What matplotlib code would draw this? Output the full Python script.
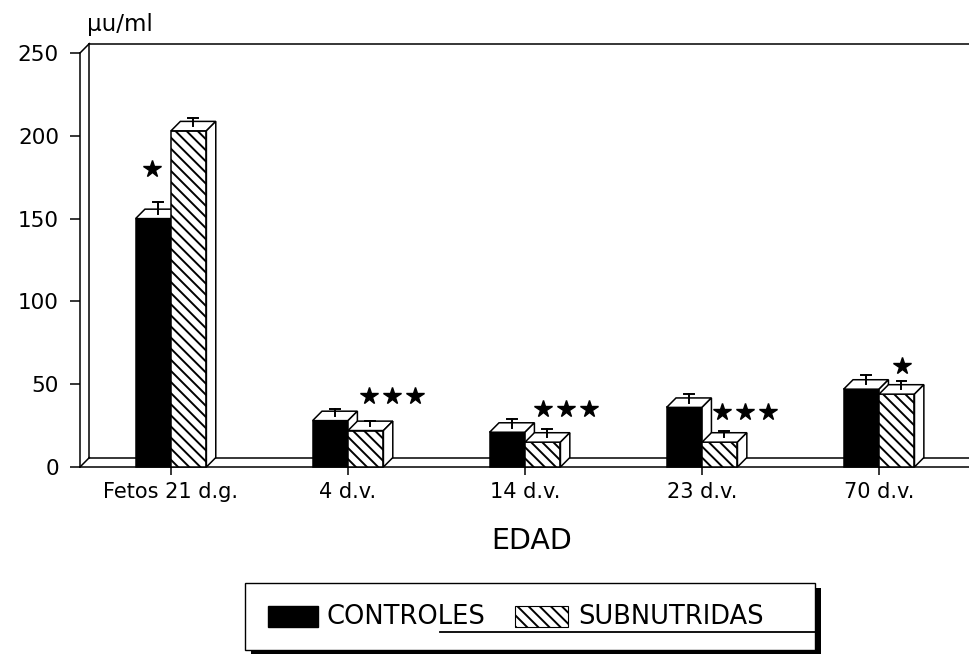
import matplotlib
matplotlib.use("Agg")
import matplotlib.pyplot as plt
from matplotlib.patches import Rectangle, Polygon

plt.rcParams['font.family'] = ['DejaVu Sans']
plt.rcParams['hatch.linewidth'] = 1.4

# insulina (uU/ml) por edad: media y error de cada grupo
edades = ['Fetos 21 d.g.', '4 d.v.', '14 d.v.', '23 d.v.', '70 d.v.']
controles = [150, 28, 21, 36, 47]
controles_err = [7, 4, 5, 5, 6]
subnutridas = [203, 22, 15, 15, 44]
subnutridas_err = [5, 3, 5, 4, 5]
# estrellas de significacion por grupo y altura a la que van
estrellas = [1, 3, 3, 3, 1]
estrellas_y = [180, 43, 35, 33, 61]
yticks = [0, 50, 100, 150, 200, 250]

# desplazamiento horizontal de las estrellas respecto al centro del grupo
estrellas_dx = [-0.11, 0.25, 0.23, 0.24, 0.13]

W, H = 969, 661
fig = plt.figure(figsize=(W / 100, H / 100), dpi=100)
ax = fig.add_axes([80 / W, 1 - 467 / H, 889 / W, 414 / H])
xl, xr = -0.514, 4.508
ax.set_xlim(xl, xr)
ax.set_ylim(0, 250)
for s in ax.spines.values():
    s.set_visible(False)
ax.patch.set_visible(False)
ax.set_yticks(yticks)
ax.set_xticks(range(len(edades)))
ax.set_xticklabels(edades)
ax.tick_params(axis='y', direction='out', length=7.2, width=1.1, pad=8.0, labelsize=15.5)
ax.tick_params(axis='x', direction='out', length=6, width=1.1, pad=5, labelsize=15)

# caja en perspectiva: pared del fondo y suelo
dx, dy = 0.053, 5.7
kw = dict(color='black', lw=1.1, clip_on=False, zorder=1)
ax.plot([xl, xl], [0, 250], **kw)
ax.plot([xl, xr], [0, 0], **kw)
ax.plot([xl + dx, xl + dx], [dy, 250 + dy], **kw)
ax.plot([xl + dx, xr], [250 + dy, 250 + dy], **kw)
ax.plot([xl + dx, xr], [dy, dy], **kw)
ax.plot([xl, xl + dx], [0, dy], **kw)
ax.plot([xl, xl + dx], [250, 250 + dy], **kw)

w = 0.2
rayas = '\\\\\\'


def bar3d(x0, h, err, face, hatch=None):
    pk = dict(edgecolor='black', lw=1.1, zorder=3, clip_on=False)
    ax.add_patch(Rectangle((x0, 0), w, h, facecolor=face, hatch=hatch, **pk))
    ax.add_patch(Polygon([(x0, h), (x0 + w, h), (x0 + w + dx, h + dy), (x0 + dx, h + dy)],
                         closed=True, facecolor='white', **pk))
    ax.add_patch(Polygon([(x0 + w, 0), (x0 + w + dx, dy), (x0 + w + dx, h + dy), (x0 + w, h)],
                         closed=True, facecolor='white', **pk))
    xc = x0 + w / 2 + dx / 2
    yb = h + dy / 2
    ax.plot([xc, xc], [yb, yb + err], color='black', lw=1.4, zorder=3, clip_on=False)
    ax.plot([xc - 0.028, xc + 0.028], [yb + err] * 2, color='black', lw=1.4,
            zorder=3, clip_on=False)


for i in range(len(edades)):
    bar3d(i - w, controles[i], controles_err[i], 'black')
    bar3d(i, subnutridas[i], subnutridas_err[i], 'white', rayas)
    n = estrellas[i]
    xs = [i + estrellas_dx[i] + 0.13 * (k - (n - 1) / 2) for k in range(n)]
    ax.plot(xs, [estrellas_y[i]] * n, ls='none', marker='*', ms=13, color='black',
            clip_on=False, zorder=5)

# capa en pixeles para titulos y leyenda
ov = fig.add_axes([0, 0, 1, 1])
ov.set_xlim(0, W)
ov.set_ylim(H, 0)
ov.axis('off')
ov.text(532, 541, 'EDAD', fontsize=20.5, ha='center', va='center')
ov.text(87, 31, '\u03bcu/ml', fontsize=16.5, ha='left', va='baseline')

ov.add_patch(Rectangle((251, 588), 570, 66, facecolor='black', lw=0))
ov.add_patch(Rectangle((245, 583), 570, 67, facecolor='white', edgecolor='black', lw=1.0))
ov.plot([440, 815], [632, 632], color='black', lw=1.3)
ov.add_patch(Rectangle((268, 606), 50, 21, facecolor='black', edgecolor='black'))
ov.text(327, 617, 'CONTROLES', fontsize=18.5, ha='left', va='center')
ov.add_patch(Rectangle((515, 606), 53, 21, facecolor='white', edgecolor='black',
                       hatch=rayas, lw=0.8))
ov.text(578, 617, 'SUBNUTRIDAS', fontsize=18.5, ha='left', va='center')

fig.savefig('out.png', dpi=100)
